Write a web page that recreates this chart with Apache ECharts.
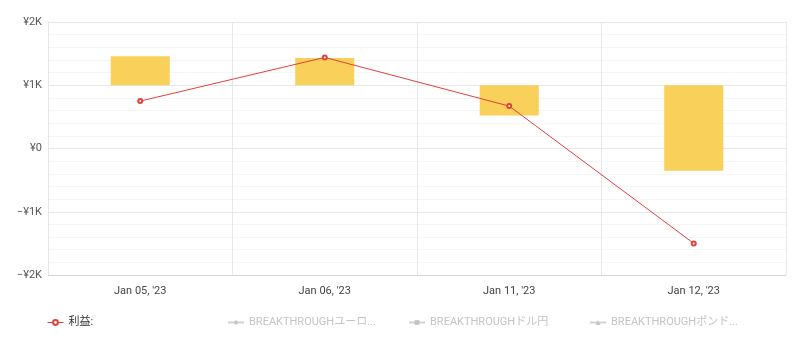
<!DOCTYPE html>
<html>

<head>
    <meta charset="utf-8">
    <title>利益</title>
    <style>
        html, body { margin: 0; padding: 0; background: #fff; }
    </style>
</head>

<body>
    <div id="chart" style="width: 793px;height: 351px;"></div>

    <script src="https://cdn.jsdelivr.net/npm/echarts@6/dist/echarts.min.js"></script>
    <script>
        // dates
        const dates = ['Jan 05, \'23', 'Jan 06, \'23', 'Jan 11, \'23', 'Jan 12, \'23'];
        // 利益 line
        const profit = [750, 1440, 670, -1500];
        // range bars (low / high)
        const barLow = [1000, 1000, 520, -350];
        const barHigh = [1460, 1430, 1000, 1000];
        // legend names
        const names = ['利益:', 'BREAKTHROUGHユーロドル', 'BREAKTHROUGHドル円', 'BREAKTHROUGHポンドドル'];
        const hiddenA = [], hiddenB = [], hiddenC = [];

        const font = 'Roboto, "Noto Sans CJK JP", sans-serif';
        const chart = echarts.init(document.getElementById('chart'));

        const base = barLow;
        const span = barHigh.map((h, i) => h - barLow[i]);

        const yLabel = v => v === 0 ? '¥0' : (v < 0 ? '\u2212' : '') + '¥' + Math.abs(v) / 1000 + 'K';

        // hidden series in the legend
        const selected = {
            'BREAKTHROUGHユーロドル': false,
            'BREAKTHROUGHドル円': false,
            'BREAKTHROUGHポンドドル': false
        };

        // one legend block per series, fixed slots like the original
        const legendLeft = [42, 222, 403, 584];
        const legends = names.map((n, i) => ({
            left: legendLeft[i],
            top: 312,
            itemWidth: 16,
            itemHeight: 6,
            itemGap: 5,
            inactiveColor: '#c4c4c4',
            data: [n],
            selected: selected,
            lineStyle: { width: 1 },
            textStyle: {
                fontFamily: font,
                fontSize: 11,
                color: '#333',
                width: 134,
                overflow: 'truncate'
            }
        }));

        const option = {
            animation: false,
            grid: { left: 48, right: 7, top: 22, bottom: 76 },
            legend: legends,
            xAxis: {
                type: 'category',
                data: dates,
                boundaryGap: true,
                axisLine: { onZero: false, lineStyle: { color: '#d6d6d6' } },
                axisTick: { show: false },
                axisLabel: { color: '#444', fontFamily: font, fontSize: 11, margin: 11 },
                splitLine: { show: true, lineStyle: { color: '#e8e8e8' } }
            },
            yAxis: {
                type: 'value',
                min: -2000,
                max: 2000,
                interval: 1000,
                axisLine: { show: true, lineStyle: { color: '#e6e6e6' } },
                axisLabel: { color: '#555', fontFamily: font, fontSize: 11, margin: 6, formatter: yLabel },
                splitLine: { lineStyle: { color: '#e8e8e8' } },
                minorTick: { show: false, splitNumber: 5 },
                minorSplitLine: { show: true, lineStyle: { color: '#f6f6f6' } }
            },
            series: [
                {
                    type: 'bar',
                    stack: 'range',
                    stackStrategy: 'all',
                    silent: true,
                    barWidth: '32%',
                    itemStyle: { color: 'transparent' },
                    data: base
                },
                {
                    type: 'bar',
                    stack: 'range',
                    stackStrategy: 'all',
                    barWidth: '32%',
                    itemStyle: { color: '#f8d05a' },
                    data: span
                },
                {
                    name: names[0],
                    type: 'line',
                    data: profit,
                    symbol: 'emptyCircle',
                    symbolSize: 4,
                    z: 5,
                    lineStyle: { color: '#e2413c', width: 1 },
                    itemStyle: { color: '#e2413c', borderWidth: 1 }
                },
                { name: names[1], type: 'line', symbol: 'diamond', symbolSize: 4, lineStyle: { width: 1 }, data: hiddenA },
                { name: names[2], type: 'line', symbol: 'rect', symbolSize: 4, lineStyle: { width: 1 }, data: hiddenB },
                { name: names[3], type: 'line', symbol: 'triangle', symbolSize: 4, lineStyle: { width: 1 }, data: hiddenC }
            ]
        };
        chart.setOption(option);
    </script>

</body>

</html>
